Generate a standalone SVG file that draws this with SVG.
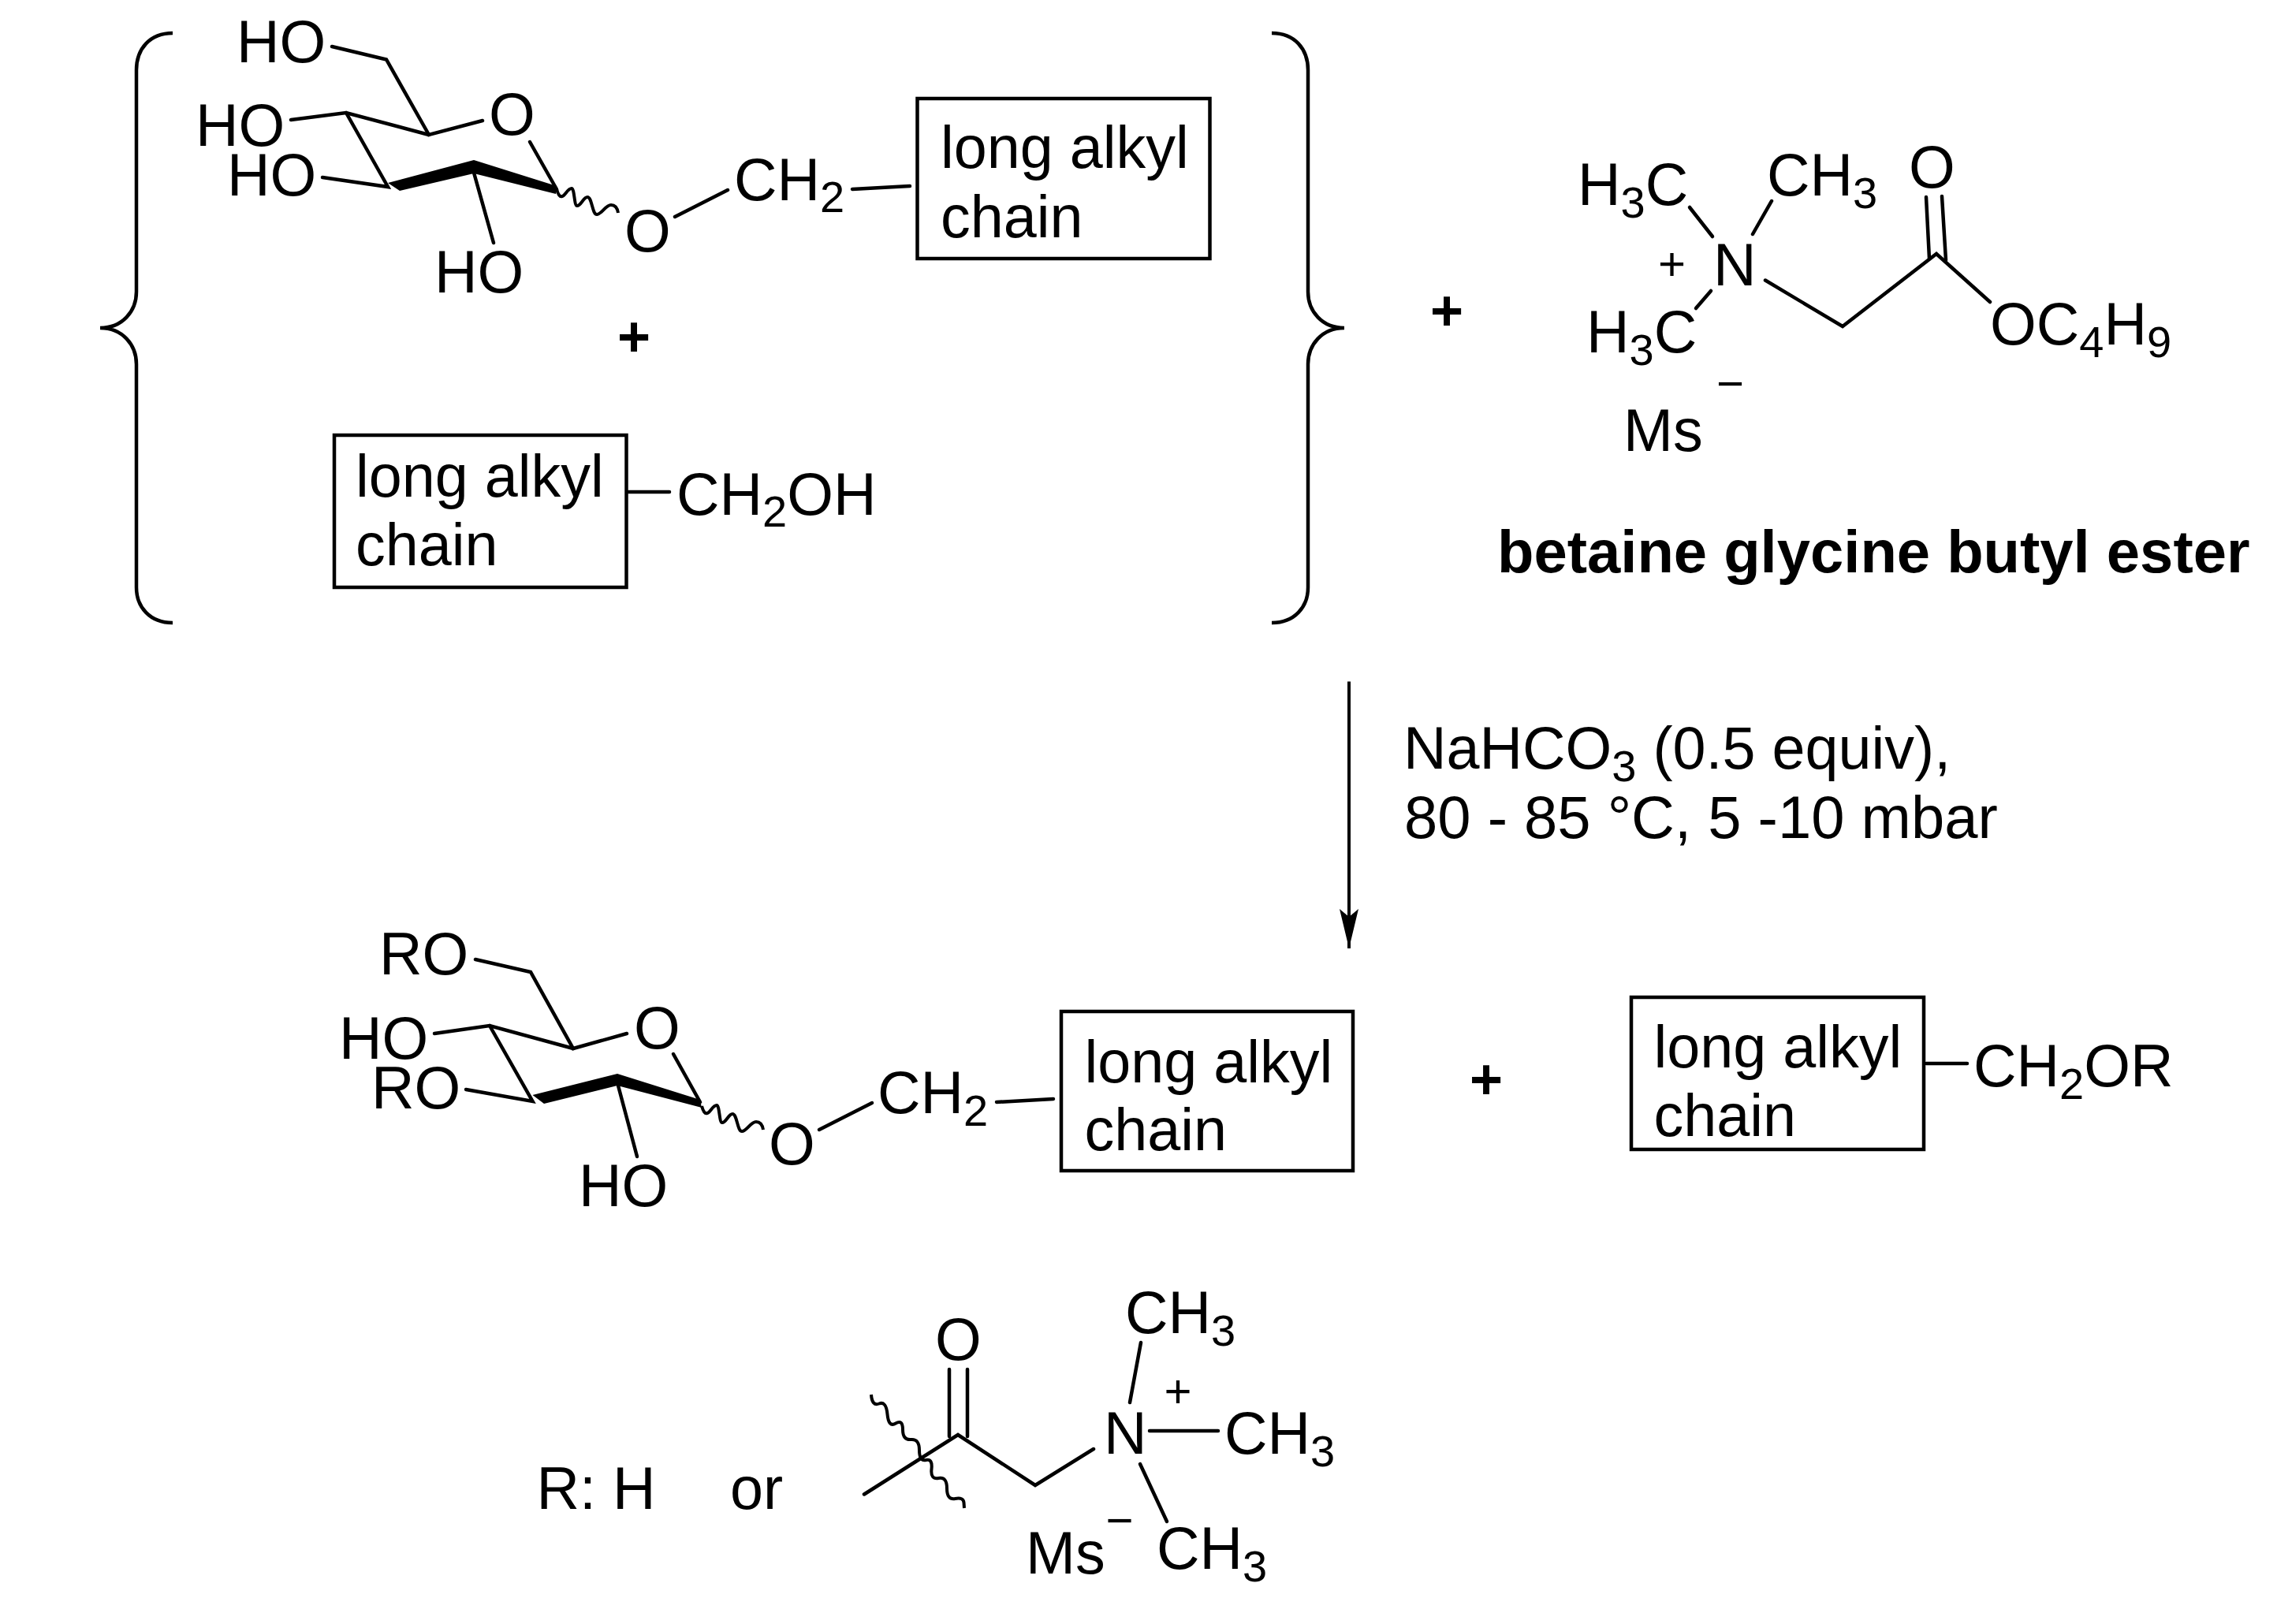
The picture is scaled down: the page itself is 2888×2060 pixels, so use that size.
<svg xmlns="http://www.w3.org/2000/svg" width="2888" height="2060" viewBox="0 0 2888 2060">
<style>
text{font-family:"Liberation Sans",Arial,sans-serif;font-size:75.500px;fill:#000}
.s{font-size:56px}
.c{font-size:60px;text-anchor:middle}
.p{text-anchor:middle;font-weight:bold;font-size:72px}
.b{font-weight:bold;font-size:76px}
.m{font-size:76px}
.l,path.l,polyline.l{fill:none;stroke:#000;stroke-width:4.5;stroke-linecap:round;stroke-linejoin:miter}
.k{fill:none;stroke:#000;stroke-width:4.5}
.w{fill:none;stroke:#000;stroke-width:4}
.f{fill:#000;stroke:none}
</style>
<defs>
<path id="wave" class="w" d="M0 0C2 7 4 10 7 9C11 8 14 -1 19 -1C23 0 22 21 26 21C31 21 34 10 39 10C45 10 45 32 51 32C57 32 62 20 69 20C74 20 77 24 78 30"/>
<marker id="head" markerUnits="userSpaceOnUse" markerWidth="26" markerHeight="52" refX="13" refY="50" orient="0" viewBox="0 0 26 52"><path d="M13 50L25 0L13 10L1 0Z" fill="#000"/></marker>
</defs>
<rect width="2888" height="2060" fill="#fff"/>

<g id="brace-left"><path class="k" d="M219 42C190 42 173 62 173 89V370C173 395 155 416 127 416C155 416 173 437 173 462V745C173 770 190 790 219 790"/></g>
<g id="brace-right"><path class="k" d="M1613 42C1642 42 1659 62 1659 89V370C1659 395 1677 416 1705 416C1677 416 1659 437 1659 462V745C1659 770 1642 790 1613 790"/></g>

<g id="glucoside-top">
<polyline class="l" points="421,59 490,75.500 544,171 612,153"/>
<polyline class="l" points="369,152 439,143 544,171"/>
<polyline class="l" points="439,143 492,237 409,225"/>
<polygon class="f" points="492,232 601,203 706,236 705,246 601,220 507,242"/>
<line class="l" x1="672" y1="180" x2="706" y2="240"/>
<line class="l" x1="601" y1="219" x2="626" y2="308"/>
<use href="#wave" x="706" y="240"/>
<line class="l" x1="856" y1="275" x2="923" y2="241"/>
<line class="l" x1="1081" y1="240" x2="1154" y2="236"/>
<text x="300" y="79">HO</text>
<text x="248" y="185">HO</text>
<text x="288" y="248">HO</text>
<text x="620" y="171">O</text>
<text x="551" y="371">HO</text>
<text x="792" y="319">O</text>
<text x="931" y="254">CH<tspan class="s" dy="15">2</tspan></text>
</g>
<g id="box-top">
<rect class="k" x="1169" y="125" width="371" height="203" transform="translate(-5.500 0)"/>
<text x="1193" y="213">long alkyl</text>
<text x="1193" y="301">chain</text>
</g>
<g id="plus-1"><text class="p" x="804" y="452">+</text></g>
<g id="alcohol-top">
<rect class="k" x="424" y="554" width="370.500" height="193" transform="translate(0 -2)"/>
<text x="451" y="630">long alkyl</text>
<text x="451" y="717">chain</text>
<line class="l" x1="797" y1="624" x2="849" y2="624"/>
<text x="858" y="653">CH<tspan class="s" dy="15">2</tspan><tspan dy="-15">OH</tspan></text>
</g>
<g id="plus-2"><text class="p" x="1835" y="419">+</text></g>
<g id="betaine">
<line class="l" x1="2143" y1="263" x2="2172" y2="300"/>
<line class="l" x1="2247" y1="255" x2="2223" y2="297"/>
<line class="l" x1="2170" y1="369" x2="2151" y2="391"/>
<polyline class="l" points="2239,355.500 2337,414 2456,322 2524,383"/>
<line class="l" x1="2443" y1="250" x2="2447" y2="328"/>
<line class="l" x1="2463" y1="249" x2="2468" y2="330"/>
<text x="2001" y="259.500">H<tspan class="s" dy="16">3</tspan><tspan dy="-16">C</tspan></text>
<text x="2241" y="248">CH<tspan class="s" dy="16">3</tspan></text>
<text x="2421" y="238">O</text>
<text x="2173" y="361.500">N</text>
<text class="c" x="2120.500" y="355">+</text>
<text x="2012" y="447">H<tspan class="s" dy="16">3</tspan><tspan dy="-16">C</tspan></text>
<text class="c" x="2194.500" y="507">−</text>
<text x="2059" y="572">Ms</text>
<text x="2524" y="436.500">OC<tspan class="s" dy="16">4</tspan><tspan dy="-16">H</tspan><tspan class="s" dy="16">9</tspan></text>
</g>
<g id="betaine-label"><text class="b" x="1899" y="726">betaine glycine butyl ester</text></g>
<g id="conditions">
<text x="1780" y="974.500">NaHCO<tspan class="s" dy="16">3</tspan><tspan dy="-16"> (0.5 equiv),</tspan></text>
<text class="m" x="1781" y="1062.500">80 - 85 °C, 5 -10 mbar</text>
</g>
<g id="connectors">
<line x1="1711" y1="864.500" x2="1711" y2="1203" stroke="#000" stroke-width="4" marker-end="url(#head)"/>
</g>
<g id="glucoside-bottom">
<polyline class="l" points="603,1217 673,1233 727,1330 795,1311"/>
<polyline class="l" points="551,1311 621,1301 727,1330"/>
<polyline class="l" points="621,1301 675.500,1397 591,1382"/>
<polygon class="f" points="675.500,1389 783,1362 888,1395 890,1405 783,1377 690,1400"/>
<line class="l" x1="854" y1="1337" x2="888" y2="1398"/>
<line class="l" x1="784" y1="1377" x2="808" y2="1467"/>
<use href="#wave" x="890" y="1403"/>
<line class="l" x1="1039" y1="1433" x2="1106" y2="1399"/>
<line class="l" x1="1264" y1="1398" x2="1336" y2="1394"/>
<text x="481" y="1236">RO</text>
<text x="430" y="1343">HO</text>
<text x="471" y="1406">RO</text>
<text x="804" y="1330">O</text>
<text x="734" y="1530">HO</text>
<text x="975" y="1477">O</text>
<text x="1113" y="1412">CH<tspan class="s" dy="16">2</tspan></text>
</g>
<g id="box-bottom">
<rect class="k" x="1352" y="1290" width="370" height="202" transform="translate(-6 -7)"/>
<text x="1375.500" y="1373">long alkyl</text>
<text x="1375.500" y="1459">chain</text>
</g>
<g id="plus-3"><text class="p" x="1893" y="1394" dx="-8">+</text></g>
<g id="alcohol-bottom">
<rect class="k" x="2079" y="1272" width="371" height="193" transform="translate(-10 -7)"/>
<text x="2097.500" y="1354">long alkyl</text>
<text x="2097.500" y="1441">chain</text>
<line class="l" x1="2443" y1="1349" x2="2495" y2="1349"/>
<text x="2503" y="1378">CH<tspan class="s" dy="16">2</tspan><tspan dy="-16">OR</tspan></text>
</g>
<g id="r-definition">
<text x="680.500" y="1914">R: H</text>
<text x="926" y="1914">or</text>
<path class="w" d="M1105 1769Q1106 1784 1115 1780.500Q1124 1777 1125.500 1794Q1127 1811 1136 1805.500Q1145 1800 1145 1813.500Q1145 1827 1155.500 1826Q1166 1825 1166 1839.500Q1166 1854 1174.500 1852Q1183 1850 1181.500 1863.500Q1180 1877 1190.500 1875Q1201 1873 1201 1888Q1201 1903 1211.500 1901Q1222 1899 1222.500 1906L1223 1913"/>
<polyline class="l" points="1096,1895.500 1215,1820 1313,1884 1387,1838"/>
<line class="l" x1="1204" y1="1737" x2="1204" y2="1822"/>
<line class="l" x1="1227" y1="1737" x2="1227" y2="1822"/>
<line class="l" x1="1433" y1="1779" x2="1447" y2="1703"/>
<line class="l" x1="1458" y1="1815" x2="1545" y2="1815"/>
<line class="l" x1="1446" y1="1857" x2="1480" y2="1930"/>
<text x="1186" y="1725">O</text>
<text x="1400" y="1843.500">N</text>
<text class="c" x="1494" y="1785">+</text>
<text x="1427" y="1690.500">CH<tspan class="s" dy="16">3</tspan></text>
<text x="1553" y="1843.500">CH<tspan class="s" dy="16">3</tspan></text>
<text x="1467" y="1990">CH<tspan class="s" dy="16">3</tspan></text>
<text class="c" x="1420" y="1949">−</text>
<text x="1301" y="1996">Ms</text>
</g>
</svg>
